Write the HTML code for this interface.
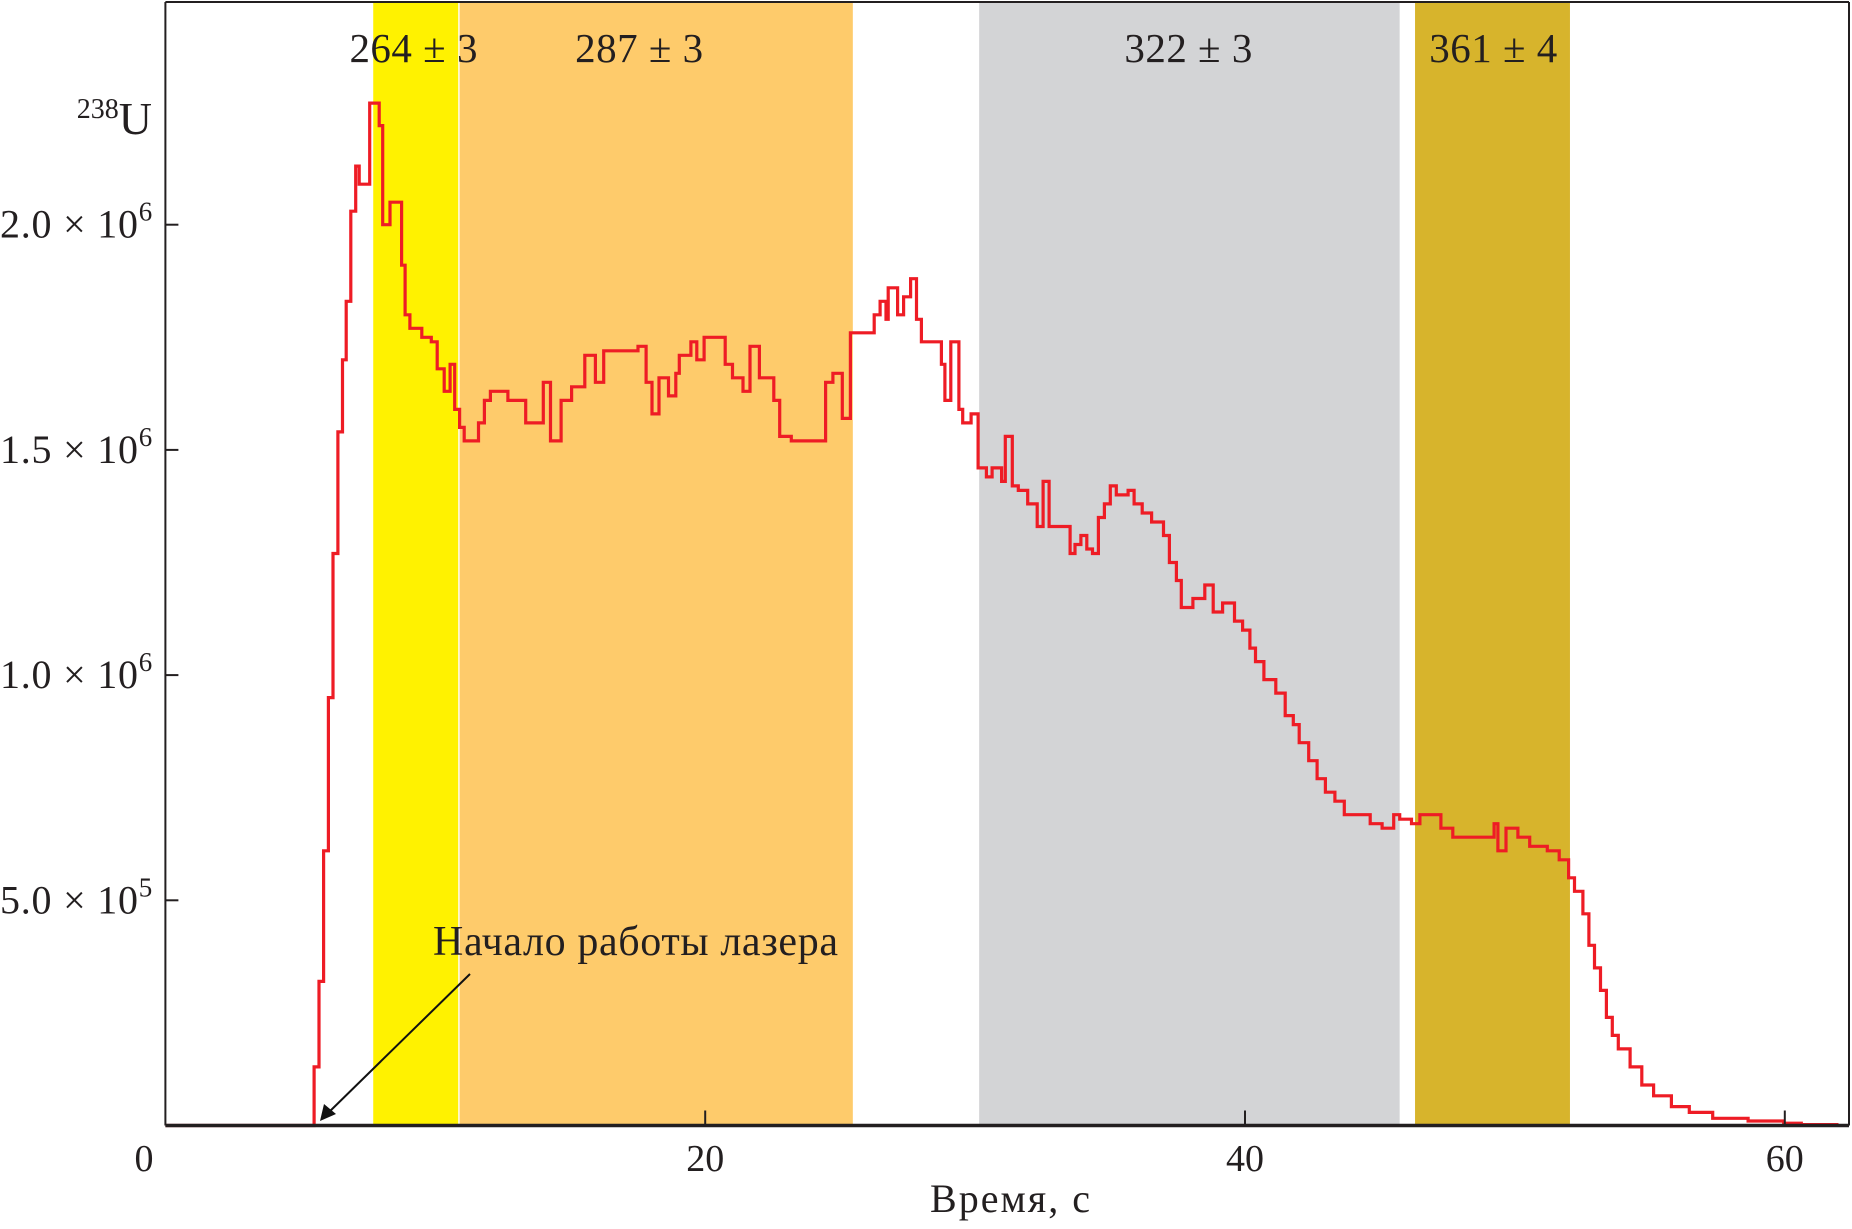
<!DOCTYPE html>
<html><head><meta charset="utf-8"><style>
html,body{margin:0;padding:0;background:#fff;}
svg text{font-family:"Liberation Serif",serif;fill:#231f20;}
</style></head><body>
<svg id="chart" width="1852" height="1224" viewBox="0 0 1852 1224" xmlns="http://www.w3.org/2000/svg">
<g id="bands"></g>
<g id="labels"></g>
<path id="series" fill="none" stroke="#ee1c25" stroke-width="3.2" stroke-linejoin="miter"></path>
<g id="axes"></g>
<text x="152" y="134" text-anchor="end" font-size="46"><tspan font-size="28" dy="-16">238</tspan><tspan dy="16">U</tspan></text>
<text x="1010" y="1212" text-anchor="middle" font-size="40" textLength="160">Время, с</text>
<text x="433" y="955" font-size="42" textLength="405">Начало работы лазера</text>
<line x1="470" y1="974" x2="325" y2="1116" stroke="#111" stroke-width="2"/>
<polygon points="320,1121 324,1104 336,1114" fill="#111"/>
</svg>
<script>
const bandStarts = [7.7, 10.9, 30.15, 46.3];
const bandEnds = [10.85, 25.47, 45.73, 52.04];
const bandLabels = ["264 ± 3", "287 ± 3", "322 ± 3", "361 ± 4"];
const bandLabelTimes = [9.19, 17.55, 37.9, 49.2];
const bandColors = ["#fff200", "#fecb6b", "#d3d4d6", "#d7b42c"];
const xTicks = [0, 20, 40, 60];
const yTicks = [0.5, 1.0, 1.5, 2.0];
const yTickLabels = ["5.0 × 10", "1.0 × 10", "1.5 × 10", "2.0 × 10"];
const yTickExp = ["5", "6", "6", "6"];
const times = [0,5.38,5.51,5.69,5.86,6.04,6.21,6.39,6.56,6.70,6.87,7.05,7.18,7.57,7.92,8.05,8.32,8.75,8.88,9.06,9.50,9.85,10.07,10.33,10.55,10.72,10.90,11.07,11.60,11.82,12.04,12.69,13.35,14.00,14.27,14.66,15.05,15.54,15.93,16.24,17.07,17.51,17.81,18.03,18.29,18.64,18.91,19.04,19.47,19.69,19.96,20.35,20.74,21.01,21.40,21.66,22.01,22.54,22.76,23.19,24.20,24.46,24.73,25.08,25.38,26.04,26.26,26.48,26.70,26.78,27.13,27.35,27.61,27.83,28.01,28.45,28.75,28.88,29.10,29.40,29.54,29.85,30.11,30.42,30.63,30.98,31.12,31.38,31.60,31.95,32.30,32.52,32.74,33.26,33.52,33.70,33.92,34.14,34.35,34.57,34.79,35.01,35.23,35.45,35.67,35.89,36.19,36.54,36.98,37.20,37.46,37.64,38.07,38.51,38.82,39.17,39.61,39.91,40.18,40.39,40.70,41.14,41.49,41.79,42.01,42.36,42.67,42.98,43.33,43.68,44.20,44.64,45.08,45.51,45.73,46.17,46.48,46.91,47.26,47.70,48.14,48.80,49.23,49.37,49.67,50.11,50.55,51.20,51.64,51.99,52.21,52.52,52.74,52.95,53.17,53.39,53.61,53.83,54.27,54.70,55.14,55.80,56.46,57.33,58.64,59.96,60.61,61.93];
const counts = [0,0.0,0.13,0.32,0.61,0.95,1.27,1.54,1.70,1.83,2.03,2.13,2.09,2.27,2.22,2.00,2.05,1.91,1.80,1.77,1.75,1.74,1.68,1.63,1.69,1.59,1.55,1.52,1.56,1.61,1.63,1.61,1.56,1.65,1.52,1.61,1.64,1.71,1.65,1.72,1.72,1.73,1.65,1.58,1.66,1.62,1.67,1.71,1.74,1.70,1.75,1.75,1.69,1.66,1.63,1.73,1.66,1.61,1.53,1.52,1.52,1.65,1.67,1.57,1.76,1.76,1.80,1.83,1.79,1.86,1.80,1.84,1.88,1.79,1.74,1.74,1.69,1.61,1.74,1.59,1.56,1.58,1.46,1.44,1.46,1.43,1.53,1.42,1.41,1.38,1.33,1.43,1.33,1.33,1.27,1.29,1.31,1.28,1.27,1.35,1.38,1.42,1.40,1.40,1.41,1.38,1.36,1.34,1.31,1.25,1.21,1.15,1.17,1.20,1.14,1.16,1.12,1.10,1.06,1.03,0.99,0.96,0.91,0.89,0.85,0.81,0.77,0.74,0.72,0.69,0.69,0.67,0.66,0.69,0.68,0.67,0.69,0.69,0.66,0.64,0.64,0.64,0.67,0.61,0.66,0.64,0.62,0.61,0.59,0.55,0.52,0.47,0.40,0.35,0.30,0.24,0.20,0.17,0.13,0.09,0.066,0.042,0.029,0.016,0.01,0.005,0.002,0];

const X0 = 165.4, XS = 26.99, Y0 = 1125.5, YS = 450.4;
const PLOT_TOP = 2, PLOT_RIGHT = 1849;
function xs(t){ return X0 + t * XS; }
function ys(v){ return Y0 - v * YS; }
const NS = "http://www.w3.org/2000/svg";
function mk(tag, attrs, parent){ const e = document.createElementNS(NS, tag); for (const k in attrs) e.setAttribute(k, attrs[k]); parent.appendChild(e); return e; }

const bandsG = document.getElementById('bands');
const labelsG = document.getElementById('labels');
bandStarts.forEach((s, i) => {
  const r = mk('rect', {x: xs(s), y: PLOT_TOP, width: xs(bandEnds[i]) - xs(s), height: Y0 - PLOT_TOP, fill: bandColors[i]}, bandsG);
  
  
  const t = mk('text', {x: xs(bandLabelTimes[i]), y: 62, 'text-anchor': 'middle', 'font-size': 41, textLength: 128}, labelsG);
  t.textContent = bandLabels[i];
  
  
});

let d = '';
for (let i = 0; i < times.length; i++) {
  const x = xs(times[i]).toFixed(1), y = ys(counts[i]).toFixed(1);
  if (i === 0) d += 'M' + x + ',' + y;
  else d += 'H' + x + 'V' + y;
}
d += 'H' + xs(61.93).toFixed(1);
document.getElementById('series').setAttribute('d', d);

const ax = document.getElementById('axes');
let l;
l = mk('line', {x1: X0, y1: PLOT_TOP, x2: PLOT_RIGHT, y2: PLOT_TOP, stroke: '#231f20', 'stroke-width': 2}, ax);
 
l = mk('line', {x1: PLOT_RIGHT, y1: PLOT_TOP, x2: PLOT_RIGHT, y2: Y0, stroke: '#231f20', 'stroke-width': 2}, ax);
 
l = mk('line', {x1: X0, y1: PLOT_TOP, x2: X0, y2: Y0, stroke: '#231f20', 'stroke-width': 2}, ax);
 
l = mk('line', {x1: X0, y1: Y0, x2: PLOT_RIGHT, y2: Y0, stroke: '#231f20', 'stroke-width': 3.5}, ax);
 

xTicks.forEach(v => {
  if (v > 0) {
    const tk = mk('line', {x1: xs(v), y1: Y0, x2: xs(v), y2: Y0 - 15, stroke: '#231f20', 'stroke-width': 2}, ax);
    
    
  }
  const t = mk('text', {x: v === 0 ? 144 : xs(v), y: 1171, 'text-anchor': 'middle', 'font-size': 38}, ax);
  t.textContent = String(v);
  
  
});
yTicks.forEach((v, i) => {
  const tk = mk('line', {x1: X0, y1: ys(v), x2: X0 + 13, y2: ys(v), stroke: '#231f20', 'stroke-width': 2}, ax);
  
  
  const t = mk('text', {x: 0, y: ys(v) + 13, 'font-size': 40}, ax);
  const a = mk('tspan', {textLength: 138}, t); a.textContent = yTickLabels[i];
  const b = mk('tspan', {'font-size': 27, dy: -17}, t); b.textContent = yTickExp[i];
  
  
});
</script>
</body></html>
